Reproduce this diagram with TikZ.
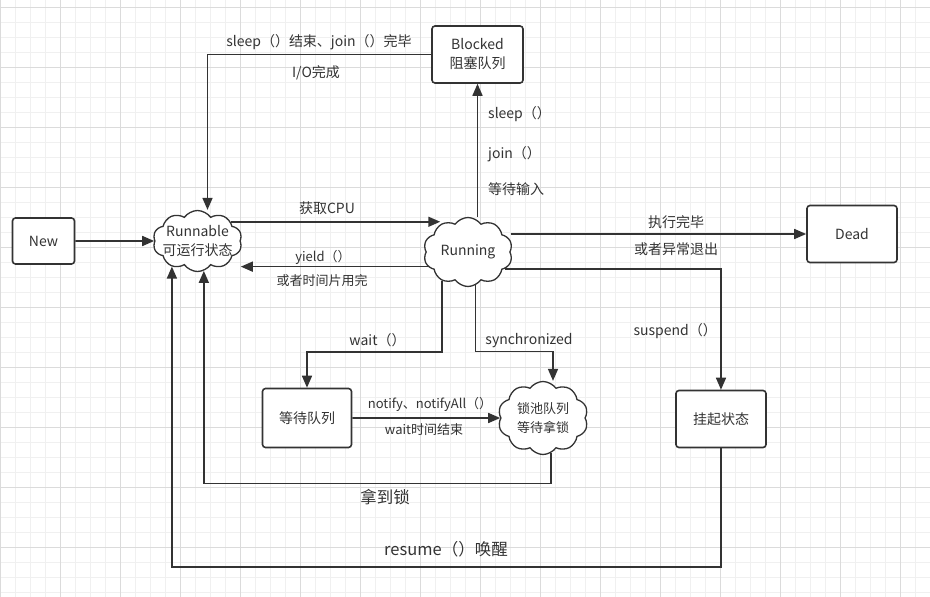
\documentclass[tikz,border=0pt]{standalone}
\usepackage{fontspec}
\setmainfont{Noto Sans CJK SC}
\usepackage{tikz}
\usetikzlibrary{shapes.symbols}
\usetikzlibrary{arrows.meta}
\colorlet{GridMinor}{gray!12}
\colorlet{GridMajor}{gray!28}
\definecolor{Ink}{HTML}{333333}

\tikzset{
  statebox/.style={draw=Ink, line width=1.6pt, rounded corners=3pt, fill=white,
    minimum width=90pt, minimum height=57pt, text=Ink, align=center,
    font=\fontsize{14}{19}\selectfont},
  puff/.style={cloud, cloud puffs=10, cloud puff arc=110, cloud ignores aspect,
    draw=Ink, line width=1.3pt, fill=white, inner sep=0pt},
  flow/.style={draw=Ink, line width=1.6pt, -{Triangle[length=12pt,width=10pt]}},
  lbl/.style={text=Ink, inner sep=0pt, font=\fontsize{14}{17}\selectfont},
  lblsmall/.style={lbl, font=\fontsize{13}{16}\selectfont},
  lblbig/.style={lbl, font=\fontsize{16.5}{20}\selectfont}
}

\begin{document}
\begin{tikzpicture}[x=1pt, y=-1pt]

\useasboundingbox (0,0) rectangle (930,597);
\fill[white] (0,0) rectangle (930,597);

% The grid
\foreach \gx in {0,15,...,930} \draw[GridMinor, line width=0.8pt] (\gx,0) -- (\gx,597);
\foreach \gy in {7.3,22.3,...,597} \draw[GridMinor, line width=0.8pt] (0,\gy) -- (930,\gy);
\foreach \gx in {0,60,...,930} \draw[GridMajor, line width=0.8pt] (\gx,0) -- (\gx,597);
\foreach \gy in {7.3,67.3,...,597} \draw[GridMajor, line width=0.8pt] (0,\gy) -- (930,\gy);

% States
\node[statebox, minimum width=62pt, minimum height=46pt] (new) at (43.5,241) {New};
\node[puff, minimum width=89pt, minimum height=61pt,
  label={[lbl, align=center, font=\fontsize{14}{18.5}\selectfont]center:Runnable\\可运行状态}] (runnable) at (197.5,241) {};
\node[statebox, minimum width=91pt] (blocked) at (477.5,54.5) {Blocked\\阻塞队列};
\node[puff, minimum width=89pt, minimum height=69pt,
  label={[lbl]center:Running}] (running) at (468,252) {};
\node[statebox] (dead) at (852,234) {Dead};
\node[statebox, minimum width=89pt, minimum height=59pt] (waitq) at (307,418) {等待队列};
\node[puff, minimum width=90pt, minimum height=73pt,
  label={[lbl, align=center, font=\fontsize{13}{18.5}\selectfont]center:锁池队列\\等待拿锁}] (lockpool) at (543,418) {};
\node[statebox] (suspended) at (721,419) {挂起状态};

% bends of the long return lines
\coordinate (lockbend) at ([yshift=-28.5pt]lockpool.south);
\coordinate (resumebend) at ([yshift=-118.5pt]suspended.south);

% New -> Runnable
\draw[flow] (new) -- (runnable);

% Runnable <-> Running
\draw[flow] (runnable.30) -- (runnable.30 -| running.135);
\draw[flow] (running.200) -- (running.200 -| runnable.east);

% Running -> Blocked -> Runnable
\draw[flow] (running.north -| blocked.south) -- (blocked.south);
\draw[flow] (blocked.west) -| ([xshift=10pt]runnable.north);

% Running -> Dead, Running -> suspended
\draw[flow] (dead.west -| running.east) -- (dead.west);
\draw[flow] (running.335) -| (suspended.north);

% Running -> waiting queue, Running -> lock pool
\draw[flow] (running.228) |- ([yshift=36pt]waitq.north) -- (waitq.north);
\draw[flow] (running.283) |- ([xshift=10pt,yshift=29.5pt]lockpool.north) -- ([xshift=10pt]lockpool.north);
\draw[flow] (waitq) -- (lockpool);

% back to Runnable
\draw[flow] (lockpool.283) |- (lockbend) -| (runnable.282);
\draw[flow] (suspended.south) |- (resumebend) -| (runnable.225);

% Labels
\node[lbl] (lblwake) at (319,42) {sleep（）结束、join（）完毕};
\node[lbl] (lblio) at (316,72.5) {I/O完成};
\node[lbl, anchor=west] (lblsleep) at (488,114) {sleep（）};
\node[lbl, anchor=west] (lbljoin) at (488,154) {join（）};
\node[lbl, anchor=west] (lblinput) at (488,189) {等待输入};
\node[lbl] (lblcpu) at (327,208) {获取CPU};
\node[lblsmall] (lblyield) at (323,257) {yield（）};
\node[lblsmall] (lblslice) at (322,281) {或者时间片用完};
\node[lbl] (lblend) at (676,222) {执行完毕};
\node[lbl] (lblexc) at (676,249) {或者异常退出};
\node[lbl] (lblwait) at (377.5,340.5) {wait（）};
\node[lbl] (lblsync) at (529,340.5) {synchronized};
\node[lbl, anchor=east] (lblsuspend) at (717,331.5) {suspend（）};
\node[lblsmall] (lblnotify) at (430,404) {notify、notifyAll（）};
\node[lblsmall] (lbltimeout) at (424,430) {wait时间结束};
\node[lblbig] (lbllock) at (385,497) {拿到锁};
\node[lblbig] (lblresume) at (446,549) {resume（）唤醒};

\end{tikzpicture}
\end{document}
